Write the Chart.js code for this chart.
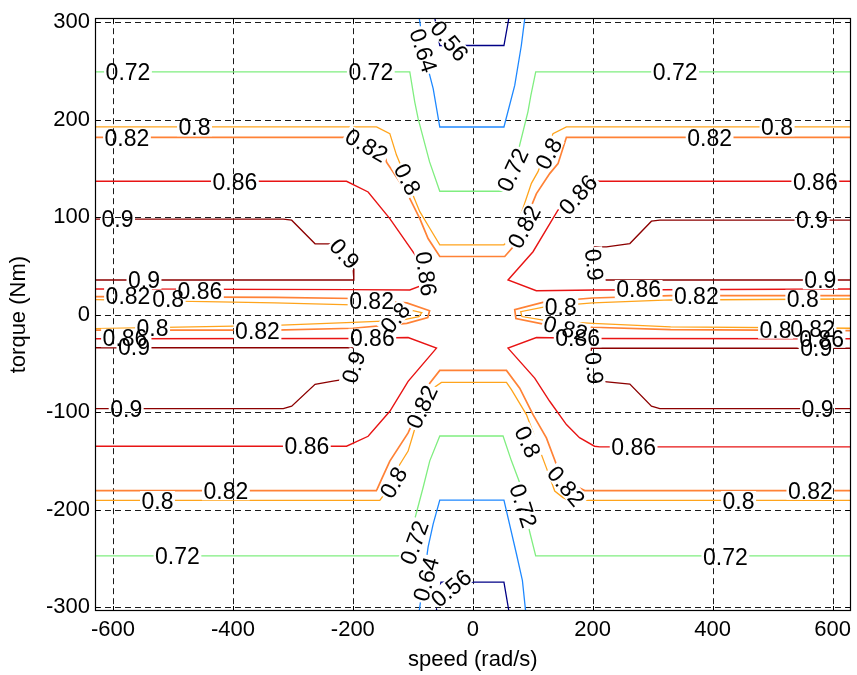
<!DOCTYPE html>
<html>
<head>
<meta charset="utf-8">
<script src="https://cdn.jsdelivr.net/npm/chart.js@4.4.0/dist/chart.umd.min.js"></script>
<style>
  html, body { margin: 0; padding: 0; background: #ffffff; }
  #wrap { width: 857px; height: 675px; }
</style>
</head>
<body>
<div id="wrap"><canvas id="map" width="857" height="675"></canvas></div>
<script>
// ---- axes ----
const speedTicks  = [-600, -400, -200, 0, 200, 400, 600];
const torqueTicks = [-300, -200, -100, 0, 100, 200, 300];
const speedRange  = [-630, 630];
const torqueRange = [-304, 304];

// ---- efficiency contour paths, points are [speed rad/s, torque Nm] ----
const eff056Top    = [[-63.5,305],[-55,276],[52,276],[60.5,305]];
const eff056Bottom = [[-61,-305],[-53,-274.4],[52,-274.4],[60.5,-305]];

const eff064Top    = [[-89.5,305],[-83,279.4],[-74.5,252],[-66,231.7],[-55,192.4],[52,192.4],[70,235],[81,276],[87,305]];
const eff064Bottom = [[-89.5,-305],[-74.5,-238.6],[-66,-214.7],[-55,-190.2],[52,-190.2],[72.8,-245.3],[82.8,-272.7],[88.3,-305]];

const eff072Top    = [[-630,249],[-105,249],[-96.7,218],[-91,200.7],[-72,156.6],[-55,126.5],[50,126.5],[75.5,167],[92,208],[97,225],[105,249],[630,249]];
const eff072Bottom = [[-630,-247.5],[-105,-247.5],[-96.7,-209.6],[-82.8,-177.3],[-71.7,-150],[-55,-124.5],[50.5,-124.5],[64.5,-150],[78.3,-172.5],[95,-223],[105,-247.5],[630,-247.5]];

const eff080Top    = [[-630,192.5],[-160.5,192.5],[-138.3,185.6],[-127.2,163.6],[-88.3,105.6],[-71.7,88.6],[-55,71.6],[52,71.6],[67.2,81.8],[83.8,109],[97.8,134.6],[108.8,146.6],[133.8,185.6],[156.2,192.5],[630,192.5]];
const eff080Bottom = [[-630,-190.5],[-155,-190.5],[-143.8,-181],[-121.7,-153.7],[-107.8,-140],[-99.5,-123],[-93.8,-111.1],[-71.7,-82.1],[-66.2,-75.4],[-52.2,-69.5],[56.2,-69.5],[64.5,-77],[89.5,-102.6],[122.8,-157.2],[136.7,-181],[150.5,-187.7],[160,-190.5],[630,-190.5]];
const eff080LeftTongue  = [[-630,15.3],[-330,12],[-200,10],[-120,7],[-85,2],[-90,-2],[-120,-6],[-200,-8],[-330,-11],[-630,-14.3]];
const eff080RightTongue = [[630,16],[330,15],[200,12],[120,8],[80,3],[82,-2],[120,-6],[200,-9],[330,-12.5],[630,-14]];

const eff082Top    = [[-630,181.8],[-213,181.8],[-180,178],[-146.7,164.9],[-143.8,156.4],[-110.5,125.8],[-88.3,98.5],[-74.5,78],[-55,59.6],[53.3,59.6],[70,71.3],[86.7,95.1],[106.2,124.1],[128.3,144.6],[142.2,154.8],[156.2,181.8],[630,181.8]];
const eff082Bottom = [[-630,-180.5],[-160.5,-180.5],[-152.2,-169],[-138.3,-150.3],[-107.8,-121.4],[-91.7,-99.2],[-71.7,-70.3],[-55,-57.3],[56.2,-57.3],[78.3,-75.4],[100.5,-102.6],[122.8,-126.5],[139.5,-153.7],[142.2,-160.6],[161.7,-172.9],[186.7,-180.5],[630,-180.5]];
const eff082LeftTongue  = [[-630,18.4],[-330,17.7],[-200,16.5],[-110,12],[-72,4],[-75,-3],[-110,-9],[-200,-14],[-330,-16],[-630,-16]];
const eff082RightTongue = [[630,19.4],[330,19.4],[200,17],[120,13],[70,5],[72,-4],[120,-10],[200,-13],[330,-15.5],[630,-16.5]];

const eff086TopLeft     = [[-630,136.7],[-210.5,136.7],[-174.5,125.8],[-138.3,98.5],[-93.8,59.3],[-71.7,33],[-105,25.3],[-205,25.6],[-630,26.3]];
const eff086TopRight    = [[630,136.7],[206,136.7],[198,135.3],[170,124],[142,107.1],[100.5,64.5],[58.8,35.5],[106,24.5],[206,25.3],[630,26.3]];
const eff086BottomLeft  = [[-630,-135],[-210.5,-135],[-174.5,-124.8],[-138.3,-99.2],[-107.8,-68.5],[-60.5,-34.4],[-107.8,-23.5],[-200,-24.5],[-630,-24.8]];
const eff086BottomRight = [[630,-135.7],[211.7,-135.7],[203,-135],[178,-126.2],[156.2,-112.8],[128.3,-88.9],[103.3,-65.1],[58.8,-34.4],[106.2,-23.5],[200,-24.5],[630,-24.8]];

const eff090TopLeft     = [[-630,97.9],[-316,97.9],[-302,96.8],[-263,72.6],[-238,72.6],[-208,66.5],[-199.5,47.3],[-198.3,35.5],[-630,35.5]];
const eff090TopRight    = [[630,96.8],[312,96.8],[298,95.8],[262,72.9],[223,69.5],[203,69.5],[200.5,67.8],[201,50],[205.8,35.5],[630,35.5]];
const eff090BottomLeft  = [[-630,-96.4],[-316,-96.4],[-302,-94],[-263,-71.5],[-233,-68.2],[-210,-66],[-200,-50],[-200.5,-34],[-630,-34]];
const eff090BottomRight = [[630,-96.4],[312,-96.4],[298,-94],[262,-71.2],[203,-67.8],[198,-55],[197.8,-34.5],[630,-34.5]];

// ---- contour labels: level, [speed, torque] anchor, text angle (deg) ----
const labelLevels = [
  0.72, 0.72, 0.72, 0.8, 0.82, 0.86, 0.9, 0.82, 0.8, 0.56, 0.64, 0.72, 0.8, 0.82, 0.86, 0.82,
  0.8, 0.86, 0.9, 0.9, 0.86, 0.9, 0.9, 0.82, 0.8, 0.86, 0.8, 0.86, 0.9, 0.82, 0.82, 0.8,
  0.86, 0.9, 0.86, 0.82, 0.9, 0.8, 0.8, 0.82, 0.86, 0.9, 0.8, 0.82, 0.86, 0.9, 0.9, 0.86,
  0.8, 0.82, 0.72, 0.8, 0.82, 0.72, 0.64, 0.56, 0.8, 0.82, 0.72, 0.86, 0.8, 0.82, 0.72, 0.9
];
const labelAnchors = [
  [-575,249.5],[-170,249.5],[337.5,249.5],[-464,192.5],[-576.7,181],[-396.7,136.7],[-592.5,98],[-176.7,174],
  [-108.3,139],[-38.3,281],[-81.7,271],[65.8,148.5],[125.8,165.4],[85,90.3],[175,123.2],[395,181.8],
  [507.5,192.5],[571.3,136.7],[565.8,96.8],[-213.3,62.7],[-77,42],[203.3,51.2],[-548.3,35.5],[-575,19],
  [-508,16],[-455,24],[-534,-13.8],[-580,-24],[-565,-33],[-359,-16.5],[-168.8,14],[-130,-3],
  [-167.5,-24],[-199.5,-53.7],[276.7,26],[372.8,19.4],[579.7,35.5],[550.5,16],[146.7,8.2],[155,-13.8],
  [175,-24],[203.3,-54.9],[505,-15.3],[566.7,-15],[581.7,-24.5],[572.8,-34],[-578,-96.4],[-276.7,-135],
  [-525.8,-190.5],[-411.7,-181],[-492.5,-247.5],[-132.8,-172],[-85.5,-94.6],[-98.3,-233.6],[-78.7,-271.3],[-36.7,-280.3],
  [92.2,-130.4],[156.2,-175.6],[85,-196],[268.3,-135.7],[443.3,-190.5],[563,-180.5],[421.3,-248],[575,-96.4]
];
const labelAngles = [
  0, 0, 0, 0, 0, 0, 0, 30, 62, 50, 72, -65, -62, -62, -48, 0,
  0, 0, 0, 48, 82, 84, 0, 0, 0, 0, 0, 0, 0, 0, 0, -50,
  0, -72, 0, 0, 0, 0, 0, 15, 0, 84, 0, 0, 0, 0, 0, 0,
  0, 0, 0, -60, -65, -70, -75, -40, 65, 50, 72, 0, 0, 0, 0, 0
];

const levelColors = {
  0.56: '#000086', 0.64: '#1e88ff', 0.72: '#80ee80', 0.8: '#ffa41c',
  0.82: '#ff8236', 0.86: '#e81414', 0.9: '#8c0000'
};
const levelWidths = { 0.56: 1.3, 0.64: 1.3, 0.72: 1.3, 0.8: 1.3, 0.82: 1.7, 0.86: 1.4, 0.9: 1.3 };

const contourSets = [
  [0.56, [eff056Top, eff056Bottom]],
  [0.64, [eff064Top, eff064Bottom]],
  [0.72, [eff072Top, eff072Bottom]],
  [0.8,  [eff080Top, eff080Bottom, eff080LeftTongue, eff080RightTongue]],
  [0.82, [eff082Top, eff082Bottom, eff082LeftTongue, eff082RightTongue]],
  [0.86, [eff086TopLeft, eff086TopRight, eff086BottomLeft, eff086BottomRight]],
  [0.9,  [eff090TopLeft, eff090TopRight, eff090BottomLeft, eff090BottomRight]]
];

const datasets = [];
contourSets.forEach(([level, paths]) => {
  paths.forEach(path => {
    datasets.push({
      label: String(level),
      data: path.map(p => ({ x: p[0], y: p[1] })),
      showLine: true,
      borderColor: levelColors[level],
      borderWidth: levelWidths[level],
      pointRadius: 0,
      pointHoverRadius: 0,
      tension: 0,
      fill: false
    });
  });
});

const FONT_FAMILY = '"Liberation Sans", Arial, Helvetica, sans-serif';
const LABEL_SIZE = 23;

function labelGeometry(chart) {
  const ctx = chart.ctx;
  const xs = chart.scales.x, ys = chart.scales.y;
  ctx.save();
  ctx.font = LABEL_SIZE + 'px ' + FONT_FAMILY;
  const out = labelLevels.map((lv, i) => {
    const text = String(lv);
    const w = ctx.measureText(text).width;
    return {
      text,
      px: xs.getPixelForValue(labelAnchors[i][0]),
      py: ys.getPixelForValue(labelAnchors[i][1]),
      ang: labelAngles[i] * Math.PI / 180,
      hw: w / 2 + 1.5,
      hh: LABEL_SIZE * 0.36 + 1
    };
  });
  ctx.restore();
  return out;
}

const contourPlugin = {
  id: 'contourDecor',
  beforeDatasetsDraw(chart) {
    const ctx = chart.ctx;
    const a = chart.chartArea;
    const xs = chart.scales.x, ys = chart.scales.y;
    // dashed grid
    ctx.save();
    ctx.strokeStyle = '#1a1a1a';
    ctx.lineWidth = 1;
    ctx.setLineDash([6, 4]);
    xs.ticks.forEach(t => {
      const x = Math.round(xs.getPixelForValue(t.value)) + 0.5;
      ctx.beginPath(); ctx.moveTo(x, a.top); ctx.lineTo(x, a.bottom); ctx.stroke();
    });
    ys.ticks.forEach(t => {
      const y = Math.round(ys.getPixelForValue(t.value)) + 0.5;
      ctx.beginPath(); ctx.moveTo(a.left, y); ctx.lineTo(a.right, y); ctx.stroke();
    });
    ctx.restore();
    // keep contour lines out of the label boxes
    const labels = labelGeometry(chart);
    chart.$labels = labels;
    ctx.save();
    labels.forEach(L => {
      const c = Math.cos(L.ang), s = Math.sin(L.ang);
      const pts = [[-L.hw, -L.hh], [L.hw, -L.hh], [L.hw, L.hh], [-L.hw, L.hh]]
        .map(([u, v]) => [L.px + u * c - v * s, L.py + u * s + v * c]);
      ctx.beginPath();
      ctx.rect(0, 0, chart.width, chart.height);
      ctx.moveTo(pts[0][0], pts[0][1]);
      for (let k = 1; k < 4; k++) ctx.lineTo(pts[k][0], pts[k][1]);
      ctx.closePath();
      ctx.clip('evenodd');
    });
  },
  afterDatasetsDraw(chart) {
    const ctx = chart.ctx;
    ctx.restore();
    const a = chart.chartArea;
    const xs = chart.scales.x, ys = chart.scales.y;
    // frame and inward tick marks
    ctx.save();
    ctx.strokeStyle = '#000';
    ctx.lineWidth = 1.2;
    ctx.strokeRect(Math.round(a.left) + 0.5, Math.round(a.top) + 0.5,
                   Math.round(a.right - a.left) - 1, Math.round(a.bottom - a.top) - 1);
    ctx.lineWidth = 1;
    const tl = 5;
    xs.ticks.forEach(t => {
      const x = Math.round(xs.getPixelForValue(t.value)) + 0.5;
      ctx.beginPath();
      ctx.moveTo(x, a.bottom); ctx.lineTo(x, a.bottom - tl);
      ctx.moveTo(x, a.top); ctx.lineTo(x, a.top + tl);
      ctx.stroke();
    });
    ys.ticks.forEach(t => {
      const y = Math.round(ys.getPixelForValue(t.value)) + 0.5;
      ctx.beginPath();
      ctx.moveTo(a.left, y); ctx.lineTo(a.left + tl, y);
      ctx.moveTo(a.right, y); ctx.lineTo(a.right - tl, y);
      ctx.stroke();
    });
    // contour level labels
    ctx.fillStyle = '#000';
    ctx.font = LABEL_SIZE + 'px ' + FONT_FAMILY;
    ctx.textAlign = 'center';
    ctx.textBaseline = 'alphabetic';
    (chart.$labels || []).forEach(L => {
      ctx.save();
      ctx.translate(L.px, L.py);
      ctx.rotate(L.ang);
      ctx.fillText(L.text, 0, LABEL_SIZE * 0.358);
      ctx.restore();
    });
    ctx.restore();
  }
};

new Chart(document.getElementById('map'), {
  type: 'scatter',
  data: { datasets },
  options: {
    responsive: false,
    animation: false,
    events: [],
    layout: { padding: { top: 15, right: 5, bottom: 0, left: 0 } },
    plugins: { legend: { display: false }, tooltip: { enabled: false } },
    scales: {
      x: {
        type: 'linear',
        min: speedRange[0], max: speedRange[1],
        afterBuildTicks: s => { s.ticks = speedTicks.map(v => ({ value: v })); },
        afterFit: s => { s.height = 64; },
        grid: { display: false, drawTicks: false },
        border: { display: false },
        ticks: { color: '#000', padding: 6, maxRotation: 0, font: { family: FONT_FAMILY, size: 22 } },
        title: { display: true, text: 'speed (rad/s)', color: '#000', padding: { top: 0, bottom: 2 },
                 font: { family: FONT_FAMILY, size: 22 } }
      },
      y: {
        type: 'linear',
        min: torqueRange[0], max: torqueRange[1],
        afterBuildTicks: s => { s.ticks = torqueTicks.map(v => ({ value: v })); },
        afterFit: s => { s.width = 95; },
        grid: { display: false, drawTicks: false },
        border: { display: false },
        ticks: { color: '#000', padding: 5, font: { family: FONT_FAMILY, size: 22 } },
        title: { display: true, text: 'torque (Nm)', color: '#000', padding: { top: 6, bottom: 0 },
                 font: { family: FONT_FAMILY, size: 22 } }
      }
    }
  },
  plugins: [contourPlugin]
});
</script>
</body>
</html>
